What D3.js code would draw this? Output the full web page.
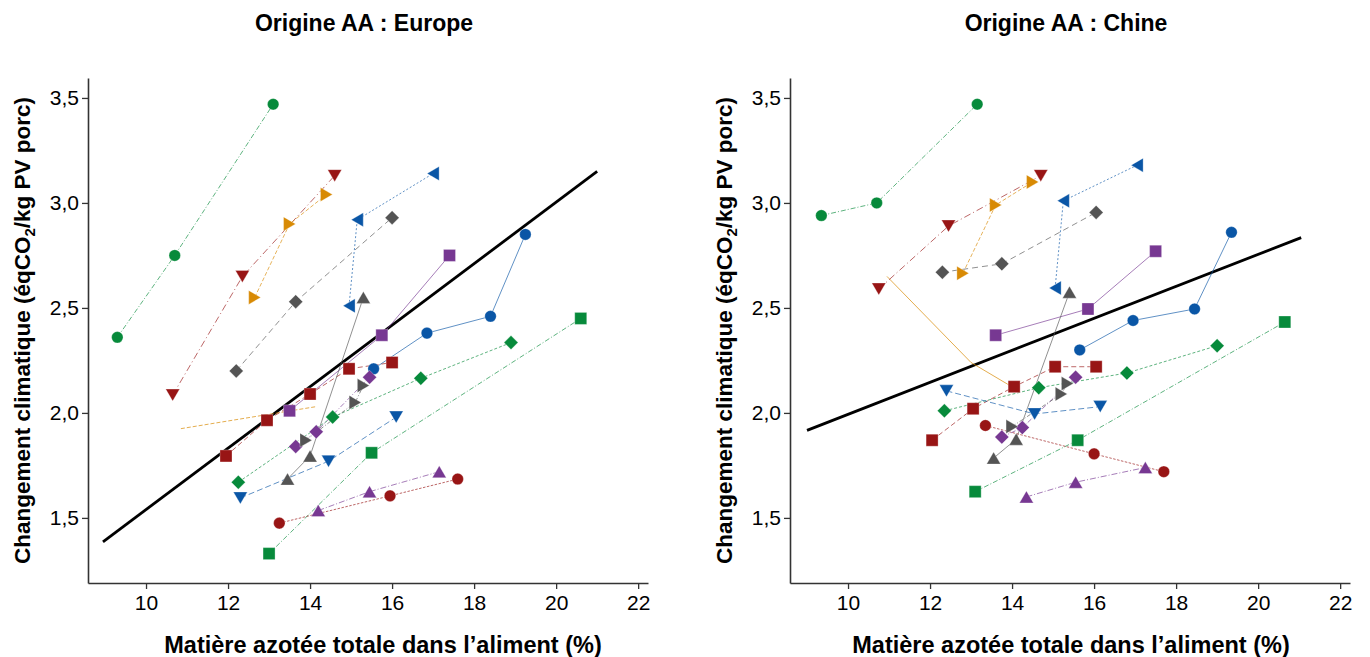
<!DOCTYPE html>
<html>
<head>
<meta charset="utf-8">
<script src="https://cdn.jsdelivr.net/npm/d3@7"></script>
<style>
  body { margin: 0; background: #fff; }
  text { font-family: "Liberation Sans", Arial, sans-serif; }
</style>
</head>
<body>
<svg id="chart" width="1370" height="657"></svg>
<script>
// ---- data ----
const X_TICKS = [10, 12, 14, 16, 18, 20, 22];
const Y_TICKS = [1.5, 2.0, 2.5, 3.0, 3.5];
const PANEL_TITLES = ["Origine AA : Europe", "Origine AA : Chine"];

// one array of [x, y] per series, same order in both panels
const europeSeries = [
  [[9.3, 2.36], [10.7, 2.75], [13.1, 3.47]],
  [[10.65, 2.085], [12.35, 2.65], [14.6, 3.13]],
  [[12.65, 2.55], [13.5, 2.9], [14.4, 3.04]],
  [[14.95, 2.51], [15.15, 2.92], [17.0, 3.14]],
  [[12.2, 2.2], [13.65, 2.53], [16.0, 2.93]],
  [[13.5, 2.01], [15.75, 2.37], [17.4, 2.75]],
  [[15.55, 2.21], [16.85, 2.38], [18.4, 2.46], [19.25, 2.85]],
  [[13.0, 1.33], [15.5, 1.81], [20.6, 2.45]],
  [[12.25, 1.67], [14.55, 1.98], [16.7, 2.165], [18.9, 2.335]],
  [[11.95, 1.795], [12.95, 1.965], [14.0, 2.09], [14.95, 2.21], [16.0, 2.24]],
  [[13.65, 1.84], [14.15, 1.91], [15.45, 2.17]],
  [[13.9, 1.87], [15.1, 2.05], [15.3, 2.13]],
  [[13.45, 1.685], [14.0, 1.795], [15.3, 2.55]],
  [[12.3, 1.595], [14.45, 1.77], [16.1, 1.98]],
  [[14.2, 1.535], [15.45, 1.625], [17.15, 1.72]],
  [[13.25, 1.475], [15.95, 1.605], [17.6, 1.685]]
];

const chineSeries = [
  [[9.35, 2.94], [10.7, 3.0], [13.15, 3.47]],
  [[10.75, 2.59], [12.45, 2.89], [14.7, 3.13]],
  [[12.8, 2.665], [13.6, 2.99], [14.5, 3.1]],
  [[15.05, 2.595], [15.25, 3.01], [17.05, 3.18]],
  [[12.3, 2.67], [13.75, 2.71], [16.05, 2.955]],
  [[13.6, 2.37], [15.85, 2.495], [17.5, 2.77]],
  [[15.65, 2.3], [16.95, 2.44], [18.45, 2.495], [19.35, 2.86]],
  [[13.1, 1.625], [15.6, 1.87], [20.65, 2.433]],
  [[12.35, 2.01], [14.65, 2.12], [16.8, 2.19], [19.0, 2.32]],
  [[12.05, 1.87], [13.05, 2.02], [14.05, 2.125], [15.05, 2.22], [16.05, 2.22]],
  [[13.75, 1.885], [14.25, 1.93], [15.55, 2.17]],
  [[14.0, 1.935], [15.2, 2.09], [15.35, 2.14]],
  [[13.55, 1.785], [14.1, 1.875], [15.4, 2.575]],
  [[12.4, 2.105], [14.55, 1.995], [16.15, 2.03]],
  [[14.35, 1.6], [15.55, 1.67], [17.25, 1.74]],
  [[13.35, 1.94], [16.0, 1.805], [17.7, 1.72]]
];

// orange line without markers
const europeOrangeLine = [[10.85, 1.925], [14.15, 2.03]];
const chineOrangeLine = [[10.95, 2.65], [13.0, 2.24], [13.95, 2.13]];

// black regression lines
const europeFit = [[8.95, 1.386], [21, 3.15]];
const chineFit = [[9, 1.917], [21.05, 2.835]];

// ---- styles per series ----
const GREEN = "#078a3b", RED = "#981515", ORANGE = "#d88a04",
      BLUE = "#0a56a6", GRAY = "#545454", PURPLE = "#773892";
const seriesColor = [GREEN, RED, ORANGE, BLUE, GRAY, PURPLE, BLUE, GREEN,
                     GREEN, RED, PURPLE, GRAY, GRAY, BLUE, PURPLE, RED];
const seriesShape = ["circle", "down", "right", "left", "diamond", "square", "circle", "square",
                     "diamond", "square", "diamond", "right", "up", "down", "up", "circle"];
const seriesDash = ["5,2,1,2", "7,3,1,3", "4,2", "2,2", "6,4", null, null, "5,2,1,2",
                    "3,2", "5,3", "5,2,1,2", "4,2,1,2", null, "6,3", "6,2,1,2", "2.5,1.5"];

// ---- layout ----
const svg = d3.select("#chart");
const PANELS = [
  { left: 88, data: europeSeries, extra: europeOrangeLine, extraDash: "4,2", fit: europeFit,
    titleX: 364, labelX: 383 },
  { left: 790, data: chineSeries, extra: chineOrangeLine, extraDash: null, fit: chineFit,
    titleX: 1066, labelX: 1071 }
];
const PLOT_W = 560, TOP = 78, BOTTOM = 583;

function shapePath(shape) {
  const tw = 14, th = 12;
  const tri = `M0,${-th / 2}L${tw / 2},${th / 2}L${-tw / 2},${th / 2}Z`;
  switch (shape) {
    case "circle": return d3.symbol(d3.symbolCircle, 105)();
    case "square": return "M-6,-6H6V6H-6Z";
    case "diamond": return "M0,-7L7,0L0,7L-7,0Z";
    default: return tri;
  }
}
const rotation = { up: 0, right: 90, down: 180, left: 270 };

PANELS.forEach((p, pi) => {
  const x = d3.scaleLinear().domain([8.585, 22.24]).range([p.left, p.left + PLOT_W]);
  const y = d3.scaleLinear().domain([1.19, 3.595]).range([BOTTOM, TOP]);
  const line = d3.line().x((d) => x(d[0])).y((d) => y(d[1]));
  const g = svg.append("g");

  // axes
  const xAxis = g.append("g")
    .attr("transform", `translate(0,${BOTTOM})`)
    .call(d3.axisBottom(x).tickValues(X_TICKS).tickSize(6).tickSizeOuter(0).tickPadding(6));
  const yAxis = g.append("g")
    .attr("transform", `translate(${p.left},0)`)
    .call(d3.axisLeft(y).tickValues(Y_TICKS).tickSize(6).tickSizeOuter(0).tickPadding(3)
      .tickFormat((d) => d3.format(".1f")(d).replace(".", ",")));
  [xAxis, yAxis].forEach((a) => {
    a.select(".domain").attr("stroke", "#333").attr("stroke-width", 1.6);
    a.selectAll(".tick line").attr("stroke", "#333").attr("stroke-width", 1.3);
    a.selectAll(".tick text").attr("fill", "#000").style("font-size", "21px");
  });

  // regression line
  g.append("path").datum(p.fit).attr("d", line)
    .attr("fill", "none").attr("stroke", "#000").attr("stroke-width", 2.8);

  // extra orange line
  g.append("path").datum(p.extra).attr("d", line)
    .attr("fill", "none").attr("stroke", ORANGE).attr("stroke-opacity", 0.7)
    .attr("stroke-width", 1).attr("stroke-dasharray", p.extraDash);

  // series lines
  g.selectAll("path.series").data(p.data).join("path")
    .attr("class", "series")
    .attr("d", line)
    .attr("fill", "none")
    .attr("stroke", (d, i) => seriesColor[i])
    .attr("stroke-opacity", 0.65)
    .attr("stroke-width", 1)
    .attr("stroke-dasharray", (d, i) => seriesDash[i]);

  // markers
  p.data.forEach((pts, si) => {
    g.selectAll(null).data(pts).join("path")
      .attr("d", shapePath(seriesShape[si]))
      .attr("transform", (d) => `translate(${x(d[0])},${y(d[1])}) rotate(${rotation[seriesShape[si]] || 0})`)
      .attr("fill", seriesColor[si])
      .attr("stroke", "#fff").attr("stroke-opacity", 0.5).attr("stroke-width", 0.6);
  });

  g.append("text").attr("x", p.titleX).attr("y", 31)
    .attr("text-anchor", "middle").style("font-size", "23px").style("font-weight", "bold")
    .text(PANEL_TITLES[pi]);

  g.append("text").attr("x", p.labelX).attr("y", 653)
    .attr("text-anchor", "middle").style("font-size", "23.5px").style("font-weight", "bold")
    .text("Matière azotée totale dans l’aliment (%)");

  const yl = g.append("text")
    .attr("transform", `translate(${p.left - 58},${(TOP + BOTTOM) / 2}) rotate(-90)`)
    .attr("text-anchor", "middle").style("font-size", "22.5px").style("font-weight", "bold");
  yl.append("tspan").text("Changement climatique (éqCO");
  yl.append("tspan").attr("dy", 5).style("font-size", "15px").text("2");
  yl.append("tspan").attr("dy", -5).text("/kg PV porc)");
});
</script>
</body>
</html>
